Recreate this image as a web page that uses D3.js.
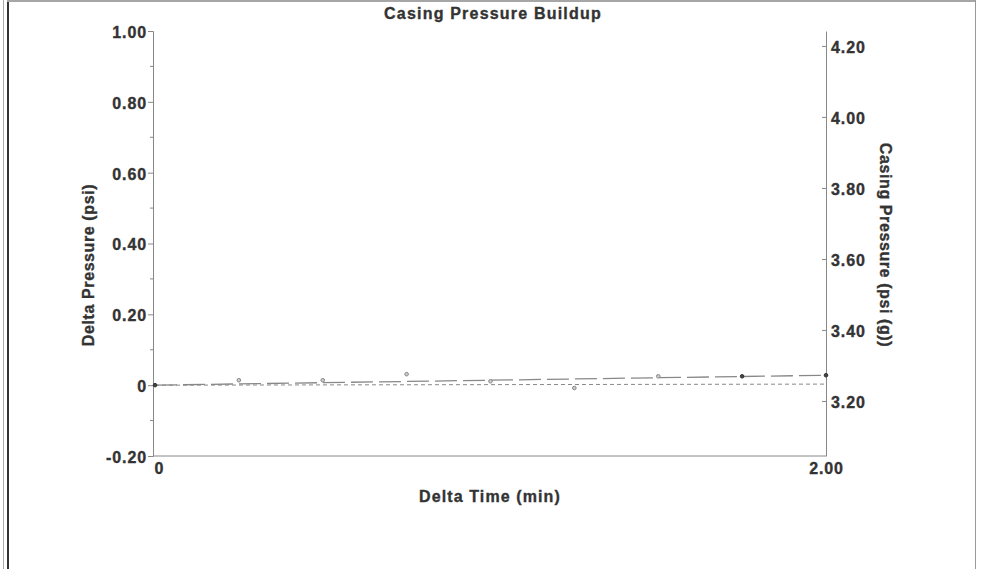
<!DOCTYPE html>
<html><head><meta charset="utf-8">
<script src="https://cdn.jsdelivr.net/npm/d3@7"></script>
<style>
html,body{margin:0;padding:0;background:#fff;}
svg text{font-family:"Liberation Sans",Arial,sans-serif;font-weight:bold;fill:#333;stroke:#333;stroke-width:0.35px;}
</style></head>
<body>
<svg id="c" width="983" height="569"></svg>
<script>
// Data
const times = [0, 0.25, 0.5, 0.75, 1.0, 1.25, 1.5, 1.75, 2.0];
const deltaP = [0, 0.014, 0.014, 0.031, 0.011, -0.008, 0.025, 0.025, 0.028];
const trendLine = [[0, 0], [2.0, 0.028]];
const refLine = [[0, 0.0], [2.0, 0.003]];
const leftTicks = [1.0, 0.8, 0.6, 0.4, 0.2, 0, -0.2];
const leftTickLabels = ["1.00", "0.80", "0.60", "0.40", "0.20", "0", "-0.20"];
const rightTicks = [4.2, 4.0, 3.8, 3.6, 3.4, 3.2];
const rightTickLabels = ["4.20", "4.00", "3.80", "3.60", "3.40", "3.20"];
const xTicks = [0, 2.0];
const xTickLabels = ["0", "2.00"];

const svg = d3.select("#c");
const L = 153, R = 826, T = 31, B = 456;
const x = d3.scaleLinear().domain([0, 2]).range([155, R]);
const y = d3.scaleLinear().domain([-0.2, 1.0]).range([B, T]);
const y2 = d3.scaleLinear().domain([3.045, 4.242]).range([B, T]);
const FONT = "Liberation Sans, Arial, sans-serif";

// frame
svg.append("line").attr("x1",3.5).attr("x2",3.5).attr("y1",0).attr("y2",569).attr("stroke","#aaa").attr("stroke-width",1);
svg.append("line").attr("x1",8).attr("x2",8).attr("y1",2).attr("y2",569).attr("stroke","#333").attr("stroke-width",2);
svg.append("line").attr("x1",7).attr("x2",976).attr("y1",1).attr("y2",1).attr("stroke","#888").attr("stroke-width",1.5);
svg.append("line").attr("x1",975.5).attr("x2",975.5).attr("y1",0).attr("y2",569).attr("stroke","#999").attr("stroke-width",1);

// title
svg.append("text").attr("x",493).attr("y",19).attr("text-anchor","middle").attr("font-size",16).attr("letter-spacing","1.2px").text("Casing Pressure Buildup");

function styleTicks(g){
  g.selectAll(".tick text").attr("font-size",16).attr("font-family",FONT).attr("font-weight","bold").attr("fill","#333").attr("letter-spacing","0.9px");
}

// left axis
const gl = svg.append("g").attr("transform",`translate(${L},0)`);
gl.call(d3.axisLeft(y).tickValues(leftTicks).tickFormat((d,i)=>leftTickLabels[i]).tickSize(5).tickPadding(1));
gl.select(".domain").attr("stroke","#888");
gl.selectAll(".tick line").attr("stroke","#888");
styleTicks(gl);
gl.selectAll(".tick text").attr("dy","0.4em");
const minor = d3.range(-0.1, 1.0, 0.2);
gl.selectAll(".minor").data(minor).enter().append("line").attr("x1",-3).attr("x2",0).attr("y1",d=>y(d)).attr("y2",d=>y(d)).attr("stroke","#888");

// right axis
const gr = svg.append("g").attr("transform",`translate(${R},0)`);
gr.call(d3.axisRight(y2).tickValues(rightTicks).tickFormat((d,i)=>rightTickLabels[i]).tickSizeInner(-4).tickSizeOuter(0).tickPadding(5));
gr.select(".domain").attr("stroke","#888");
gr.selectAll(".tick line").attr("stroke","#888");
styleTicks(gr);
gr.selectAll(".tick text").attr("dy","0.4em");

// x axis
const gx = svg.append("g").attr("transform",`translate(0,${B})`);
gx.call(d3.axisBottom(x).tickValues(xTicks).tickFormat((d,i)=>xTickLabels[i]).tickSize(0).tickPadding(7));
gx.select(".domain").attr("d",`M${L},0H${R}`).attr("stroke","#888");
styleTicks(gx);
gx.selectAll(".tick").filter((d,i)=>i===0).select("text").attr("dx",4);

// axis titles
svg.append("text").attr("transform","translate(94,265) rotate(-90)").attr("text-anchor","middle").attr("font-size",16).attr("letter-spacing","0.6px").text("Delta Pressure (psi)");
svg.append("text").attr("transform","translate(880,245) rotate(90)").attr("text-anchor","middle").attr("font-size",16).attr("letter-spacing","0.6px").text("Casing Pressure (psi (g))");
svg.append("text").attr("x",490).attr("y",502).attr("text-anchor","middle").attr("font-size",16).attr("letter-spacing","1.1px").text("Delta Time (min)");

// lines
const line = d3.line().x(d=>x(d[0])).y(d=>y(d[1]));
svg.append("path").attr("d",line(refLine)).attr("fill","none").attr("stroke","#888").attr("stroke-width",1).attr("stroke-dasharray","4,3");
svg.append("path").attr("d",line(trendLine)).attr("fill","none").attr("stroke","#888").attr("stroke-width",1.3).attr("stroke-dasharray","22,6");

// points
svg.selectAll(".pt").data(times.map((t,i)=>[t,deltaP[i]])).enter().append("circle")
  .attr("cx",d=>x(d[0])).attr("cy",d=>y(d[1])).attr("r",1.8)
  .attr("fill",(d,i)=> (i===0||i>=7) ? "#444" : "#ccc")
  .attr("stroke",(d,i)=> (i===0||i>=7) ? "#333" : "#888").attr("stroke-width",1);
</script>
</body></html>
